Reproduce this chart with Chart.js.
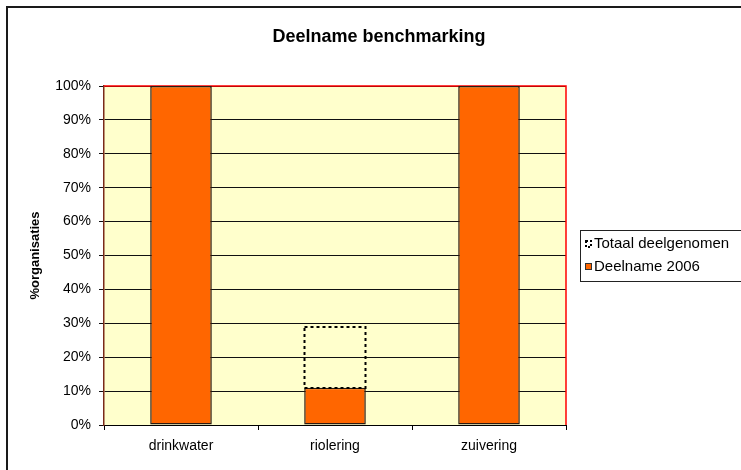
<!DOCTYPE html>
<html><head><meta charset="utf-8">
<script src="https://cdn.jsdelivr.net/npm/chart.js@4/dist/chart.umd.min.js"></script>
<style>html,body{margin:0;padding:0;background:#fff}#wrap{width:741px;height:470px;position:relative}</style>
</head><body><div id="wrap"><canvas id="c" width="741" height="470"></canvas></div>
<script>
const categories = ['drinkwater', 'riolering', 'zuivering'];
const totaalDeelgenomen = [100, 29, 100];
const deelname2006 = [100, 11, 100];
const seriesLabels = ['Totaal deelgenomen', 'Deelname 2006'];
const yTickValues = [0, 10, 20, 30, 40, 50, 60, 70, 80, 90, 100];
const chartTitle = 'Deelname benchmarking';
const yAxisTitle = '%organisaties';

const FONT = 'Arial, "Liberation Sans", sans-serif';

const decor = {
  id: 'decor',
  beforeDraw(chart) {
    const {ctx, chartArea: a} = chart;
    ctx.save();
    ctx.fillStyle = '#fff';
    ctx.fillRect(0, 0, chart.width, chart.height);
    ctx.fillStyle = '#FFFFCC';
    ctx.fillRect(a.left, a.top, a.right - a.left, a.bottom - a.top);
    ctx.strokeStyle = '#1a1a1a';
    ctx.lineWidth = 2;
    ctx.strokeRect(7, 7, 900, 900);
    ctx.restore();
  },
  beforeDatasetsDraw(chart) {
    const {ctx, chartArea: a} = chart;
    ctx.save();
    ctx.strokeStyle = '#FF0000';
    ctx.lineWidth = 1.5;
    ctx.beginPath();
    ctx.moveTo(a.left, a.top);
    ctx.lineTo(a.right, a.top);
    ctx.lineTo(a.right, a.bottom);
    ctx.stroke();
    ctx.restore();
  },
  afterDatasetsDraw(chart) {
    const {ctx} = chart;
    const m0 = chart.getDatasetMeta(0), m1 = chart.getDatasetMeta(1);
    ctx.save();
    ctx.strokeStyle = '#000';
    ctx.lineWidth = 2;
    ctx.setLineDash([3, 3]);
    m0.data.forEach((el, i) => {
      const inner = m1.data[i];
      if (totaalDeelgenomen[i] > deelname2006[i]) {
        const x = Math.round(el.x - el.width / 2) + 0.5;
        const w = Math.round(el.width) - 1;
        ctx.strokeRect(x, Math.round(el.y), w, Math.round(inner.y) - Math.round(el.y));
      }
    });
    ctx.restore();
  },
  afterDraw(chart) {
    const {ctx} = chart;
    ctx.save();
    ctx.fillStyle = '#000';
    ctx.font = 'bold 18px ' + FONT;
    ctx.textAlign = 'center';
    ctx.textBaseline = 'middle';
    ctx.fillText(chartTitle, 379, 37);
    ctx.strokeStyle = '#222';
    ctx.lineWidth = 1;
    ctx.strokeRect(580.5, 230.5, 300, 51);
    ctx.font = '15px ' + FONT;
    ctx.textAlign = 'left';
    const rows = [244, 267];
    ctx.setLineDash([2, 2]);
    ctx.lineWidth = 2;
    ctx.strokeStyle = '#000';
    ctx.strokeRect(586, rows[0] - 3, 5, 6);
    ctx.setLineDash([]);
    ctx.fillText(chart.data.datasets[0].label, 594, rows[0]);
    ctx.fillStyle = '#FF6600';
    ctx.fillRect(585, rows[1] - 4, 7, 7);
    ctx.lineWidth = 1;
    ctx.strokeStyle = '#333';
    ctx.strokeRect(585.5, rows[1] - 3.5, 6, 6);
    ctx.fillStyle = '#000';
    ctx.fillText(chart.data.datasets[1].label, 594, rows[1]);
    ctx.restore();
  }
};

new Chart(document.getElementById('c'), {
  type: 'bar',
  data: {
    labels: categories,
    datasets: [
      {label: seriesLabels[0], data: totaalDeelgenomen, backgroundColor: 'rgba(0,0,0,0)', borderWidth: 0,
       grouped: false, barPercentage: 0.4, categoryPercentage: 1},
      {label: seriesLabels[1], data: deelname2006, backgroundColor: '#FF6600', borderColor: '#2a1a10', borderWidth: 1.5,
       borderSkipped: false, grouped: false, barPercentage: 0.4, categoryPercentage: 1}
    ]
  },
  options: {
    responsive: false,
    devicePixelRatio: 1,
    animation: false,
    layout: {padding: {left: 8, right: 175, top: 86, bottom: 0}},
    plugins: {legend: {display: false}, title: {display: false}, tooltip: {enabled: false}},
    scales: {
      x: {
        offset: true,
        grid: {display: true, drawOnChartArea: false, offset: true, color: '#000', tickLength: 5},
        border: {color: '#000', width: 1},
        ticks: {color: '#000', font: {family: FONT, size: 14}, padding: 8},
        afterFit: s => { s.height = 45; }
      },
      y: {
        min: 0, max: 100,
        afterBuildTicks: s => { s.ticks = yTickValues.map(v => ({value: v})); },
        ticks: {color: '#000', font: {family: FONT, size: 14}, padding: 8, callback: v => v + '%'},
        grid: {color: '#111', lineWidth: 1, tickLength: 5},
        border: {color: '#7a2a1a', width: 1.5},
        title: {display: true, text: yAxisTitle, color: '#000', font: {family: FONT, size: 13, weight: 'bold'}, padding: {top: 20, bottom: 0}},
        afterFit: s => { s.width = 96; }
      }
    }
  },
  plugins: [decor]
});
</script>
</body></html>
